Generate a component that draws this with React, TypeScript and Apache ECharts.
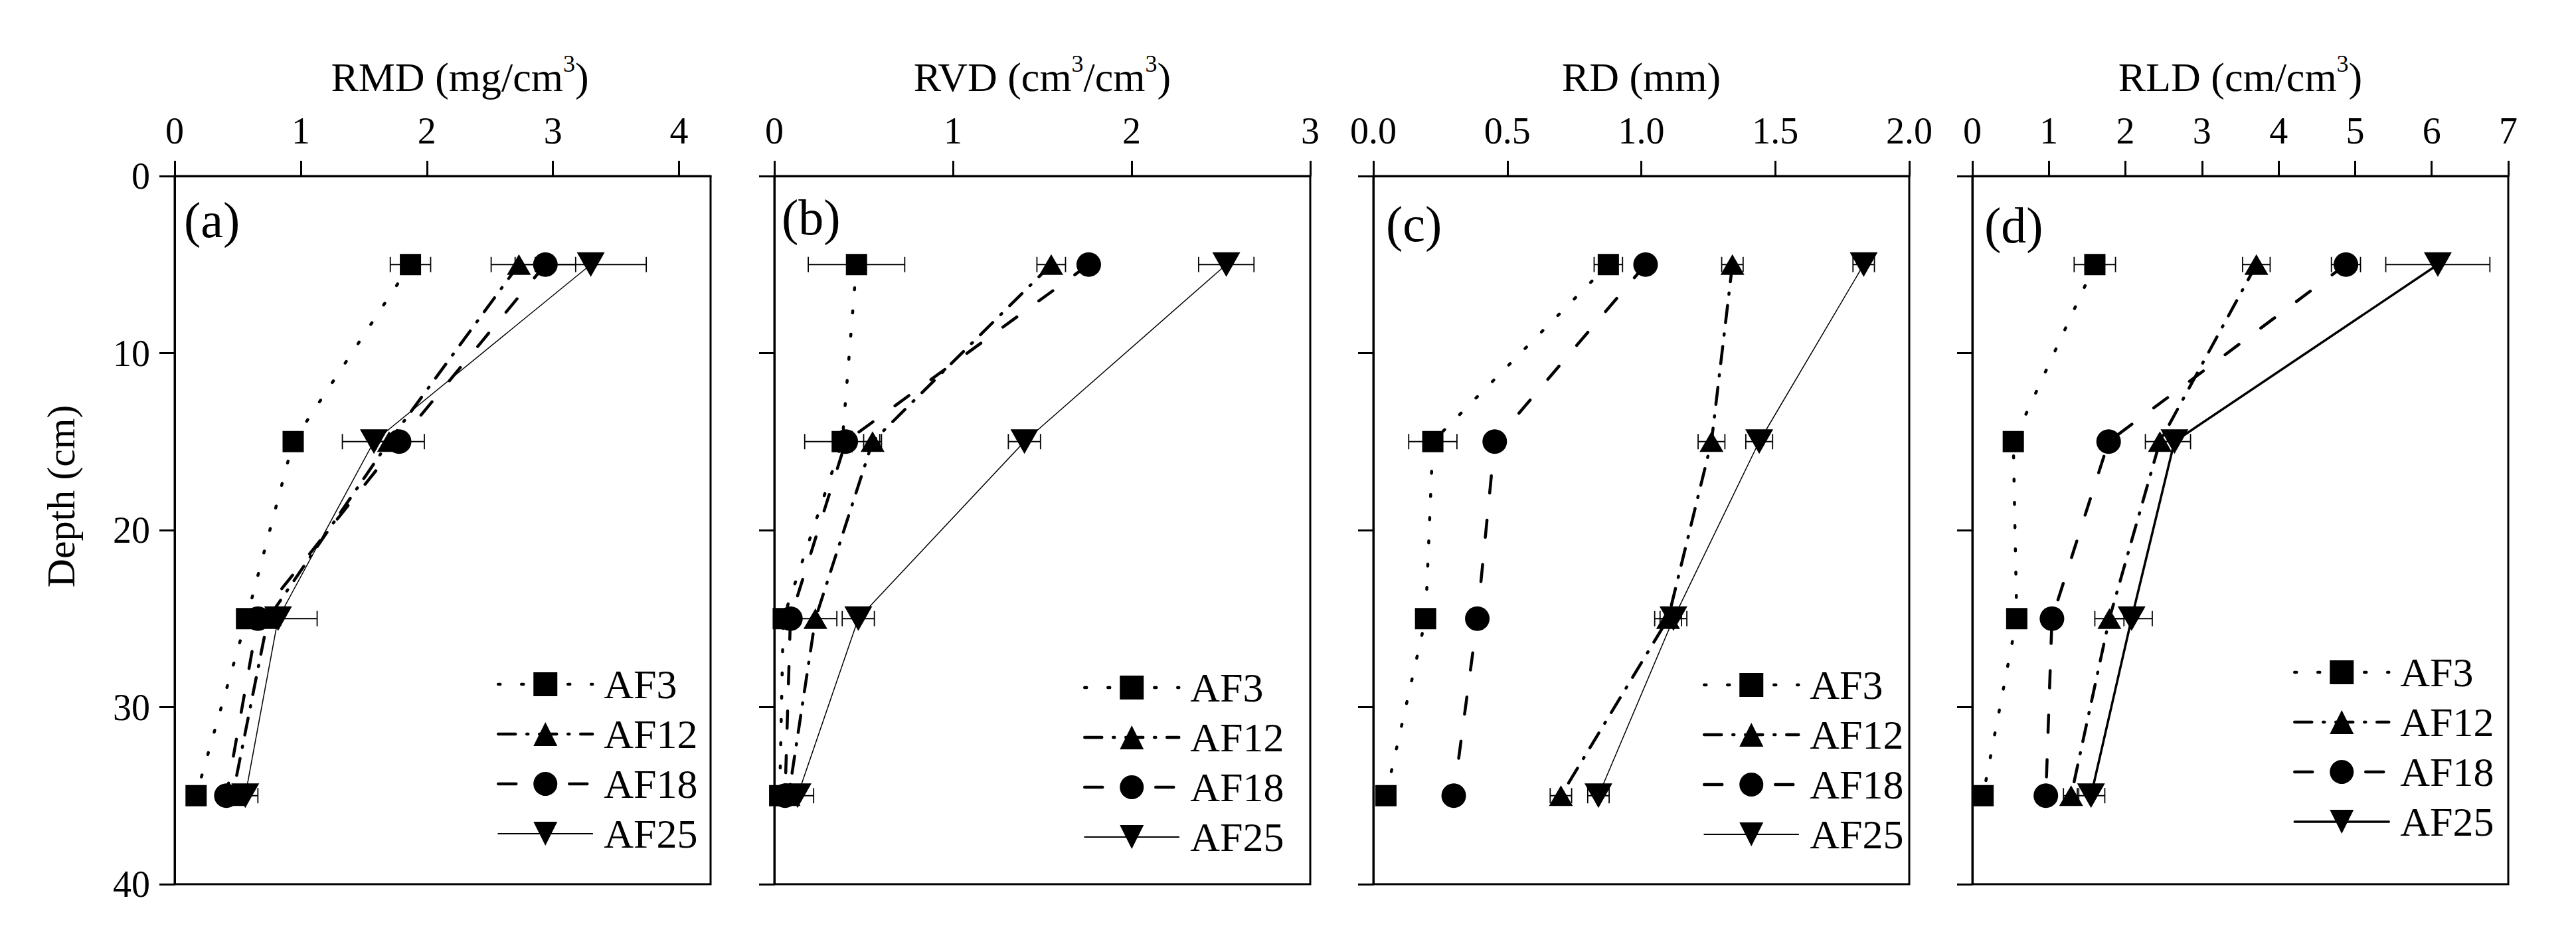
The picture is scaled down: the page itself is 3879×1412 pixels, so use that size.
import React, { useEffect, useRef } from "react";
import * as echarts from "echarts";

// ---------------- data ----------------
const depths = [5, 15, 25, 35];
const groupNames = ["AF3", "AF12", "AF18", "AF25"];

// (a) RMD (mg/cm3)
const rmdAF3 = [1.87, 0.94, 0.57, 0.17];
const rmdAF12 = [2.73, 1.7, 0.74, 0.46];
const rmdAF18 = [2.94, 1.78, 0.66, 0.41];
const rmdAF25 = [3.3, 1.58, 0.82, 0.56];
const rmdErrAF3 = [0.16, 0.05, 0.05, 0.03];
const rmdErrAF12 = [0.22, 0.1, 0.1, 0.05];
const rmdErrAF18 = [0.24, 0.2, 0.08, 0.05];
const rmdErrAF25 = [0.44, 0.25, 0.31, 0.1];

// (b) RVD (cm3/cm3)
const rvdAF3 = [0.46, 0.38, 0.05, 0.03];
const rvdAF12 = [1.55, 0.55, 0.23, 0.08];
const rvdAF18 = [1.76, 0.4, 0.09, 0.06];
const rvdAF25 = [2.53, 1.4, 0.47, 0.13];
const rvdErrAF3 = [0.27, 0.21, 0.03, 0.02];
const rvdErrAF12 = [0.08, 0.05, 0.12, 0.02];
const rvdErrAF18 = [0.02, 0.05, 0.05, 0.02];
const rvdErrAF25 = [0.155, 0.09, 0.09, 0.09];

// (c) RD (mm)
const rdAF3 = [0.877, 0.222, 0.195, 0.047];
const rdAF12 = [1.34, 1.262, 1.1, 0.7];
const rdAF18 = [1.016, 0.453, 0.388, 0.3];
const rdAF25 = [1.83, 1.44, 1.12, 0.84];
const rdErrAF3 = [0.053, 0.09, 0.01, 0.01];
const rdErrAF12 = [0.04, 0.05, 0.05, 0.04];
const rdErrAF18 = [0.01, 0.01, 0.02, 0.02];
const rdErrAF25 = [0.04, 0.05, 0.05, 0.04];

// (d) RLD (cm/cm3)
const rldAF3 = [1.6, 0.535, 0.58, 0.14];
const rldAF12 = [3.71, 2.45, 1.79, 1.29];
const rldAF18 = [4.88, 1.78, 1.04, 0.96];
const rldAF25 = [6.08, 2.64, 2.08, 1.55];
const rldErrAF3 = [0.27, 0.05, 0.05, 0.03];
const rldErrAF12 = [0.18, 0.19, 0.19, 0.1];
const rldErrAF18 = [0.19, 0.05, 0.05, 0.1];
const rldErrAF25 = [0.68, 0.21, 0.27, 0.18];

const panelTitles = [
  "RMD (mg/cm{s|3})",
  "RVD (cm{s|3}/cm{s|3})",
  "RD (mm)",
  "RLD (cm/cm{s|3})",
];
const panelTags = ["(a)", "(b)", "(c)", "(d)"];
const xMaxes = [4.25, 3, 2, 7];
const xIntervals = [1, 1, 0.5, 1];
const xTicksRMD = [0, 1, 2, 3, 4];
const xTicksRVD = [0, 1, 2, 3];
const xTicksRD = [0, 0.5, 1, 1.5, 2];
const xTicksRLD = [0, 1, 2, 3, 4, 5, 6, 7];
const depthTicks = [0, 10, 20, 30, 40];
const depthTitle = "Depth (cm)";

// ---------------- layout / style ----------------
const FONT = '"Liberation Serif", "DejaVu Serif", "Times New Roman", serif';
const W = 3879;
const H = 1412;
const gridLefts = [263, 1166, 2068, 2970];
const gridTop = 265;
const gridW = 807;
const gridH = 1066;
// [left of legend line, centre of first row]
const legendPos = [
  [748, 1031],
  [1631, 1036],
  [2564, 1032],
  [3453, 1013],
];
const tagPos = [
  [277, 331],
  [1177, 327],
  [2087, 337],
  [2988, 339],
];
const DOWN_TRI = "path://M0,0 L20,0 L10,18 Z";

const styleOf = (g: string, panel: number) => {
  if (g === "AF3")
    return { symbol: "rect", size: 32, type: [3, 32], width: 4.5 };
  if (g === "AF12")
    return { symbol: "triangle", size: [36, 31], type: [26, 17, 2, 17], width: 4.5 };
  if (g === "AF18")
    return { symbol: "circle", size: 37, type: [26, 41], width: 4.5 };
  return { symbol: DOWN_TRI, size: [42, 37], type: "solid", width: panel === 3 ? 3.5 : 1.5 };
};

export default function App() {
  const ref = useRef<HTMLDivElement>(null);

  useEffect(() => {
    if (!ref.current) return;
    const chart = echarts.init(ref.current, null, { renderer: "svg" });

    const means = [
      [rmdAF3, rmdAF12, rmdAF18, rmdAF25],
      [rvdAF3, rvdAF12, rvdAF18, rvdAF25],
      [rdAF3, rdAF12, rdAF18, rdAF25],
      [rldAF3, rldAF12, rldAF18, rldAF25],
    ];
    const errs = [
      [rmdErrAF3, rmdErrAF12, rmdErrAF18, rmdErrAF25],
      [rvdErrAF3, rvdErrAF12, rvdErrAF18, rvdErrAF25],
      [rdErrAF3, rdErrAF12, rdErrAF18, rdErrAF25],
      [rldErrAF3, rldErrAF12, rldErrAF18, rldErrAF25],
    ];
    const xTicks = [xTicksRMD, xTicksRVD, xTicksRD, xTicksRLD];

    const grid: any[] = [];
    const xAxis: any[] = [];
    const yAxis: any[] = [];
    const series: any[] = [];
    const legend: any[] = [];
    const graphic: any[] = [];

    for (let p = 0; p < 4; p++) {
      grid.push({
        left: gridLefts[p],
        top: gridTop,
        width: gridW,
        height: gridH,
        show: true,
        borderColor: "#000",
        borderWidth: 3,
        backgroundColor: "transparent",
        containLabel: false,
      });
      xAxis.push({
        type: "value",
        gridIndex: p,
        position: "top",
        min: 0,
        max: xMaxes[p],
        interval: xIntervals[p],
        axisLine: { show: true, onZero: false, lineStyle: { color: "#000", width: 3 } },
        axisTick: {
          show: true,
          inside: false,
          length: 23,
          customValues: xTicks[p],
          lineStyle: { color: "#000", width: 3 },
        },
        axisLabel: {
          show: true,
          customValues: xTicks[p],
          margin: 40,
          fontSize: 56,
          lineHeight: 56,
          fontFamily: FONT,
          color: "#000",
          formatter: (v: number) => (p === 2 ? v.toFixed(1) : String(v)),
        },
        splitLine: { show: false },
        name: panelTitles[p],
        nameLocation: "middle",
        nameGap: 111,
        nameTextStyle: {
          fontFamily: FONT,
          fontSize: 62,
          lineHeight: 76,
          color: "#000",
          padding: p === 0 ? [0, 0, 0, 52] : 0,
          rich: {
            s: { fontFamily: FONT, fontSize: 36, lineHeight: 28, verticalAlign: "top", color: "#000" },
          },
        },
      });
      yAxis.push({
        type: "value",
        gridIndex: p,
        inverse: true,
        min: 0,
        max: 40,
        interval: 10,
        axisLine: { show: true, onZero: false, lineStyle: { color: "#000", width: 3 } },
        axisTick: {
          show: true,
          inside: false,
          length: 23,
          customValues: depthTicks,
          lineStyle: { color: "#000", width: 3 },
        },
        axisLabel: {
          show: p === 0,
          customValues: depthTicks,
          margin: 37,
          fontSize: 56,
          lineHeight: 56,
          fontFamily: FONT,
          color: "#000",
        },
        splitLine: { show: false },
      });

      // error bars (drawn below the markers)
      groupNames.forEach((g, gi) => {
        series.push({
          type: "custom",
          xAxisIndex: p,
          yAxisIndex: p,
          z: 1,
          silent: true,
          data: depths.map((d, k) => [means[p][gi][k], d, errs[p][gi][k]]),
          encode: { x: 0, y: 1 },
          renderItem: (_params: any, api: any) => {
            const x = api.value(0);
            const y = api.value(1);
            const e = api.value(2);
            if (!e) return null;
            const a = api.coord([x - e, y]);
            const b = api.coord([x + e, y]);
            const h = 11.5;
            const st = { stroke: "#000", lineWidth: 1.8 };
            return {
              type: "group",
              children: [
                { type: "line", shape: { x1: a[0], y1: a[1], x2: b[0], y2: b[1] }, style: st },
                { type: "line", shape: { x1: a[0], y1: a[1] - h, x2: a[0], y2: a[1] + h }, style: st },
                { type: "line", shape: { x1: b[0], y1: b[1] - h, x2: b[0], y2: b[1] + h }, style: st },
              ],
            };
          },
        });
      });

      groupNames.forEach((g, gi) => {
        const s = styleOf(g, p);
        series.push({
          type: "line",
          name: g,
          xAxisIndex: p,
          yAxisIndex: p,
          z: 3,
          clip: false,
          data: depths.map((d, k) => [means[p][gi][k], d]),
          symbol: s.symbol,
          symbolSize: s.size,
          showAllSymbol: true,
          itemStyle: { color: "#000", borderWidth: 0 },
          lineStyle: { color: "#000", width: s.width, type: s.type, cap: "round" },
        });
      });

      legend.push({
        orient: "vertical",
        left: legendPos[p][0],
        top: legendPos[p][1] - 32,
        padding: 0,
        itemWidth: 142,
        itemHeight: 45,
        itemGap: 13,
        textStyle: { fontFamily: FONT, fontSize: 62, color: "#000", padding: [0, 0, 0, 12] },
        data: groupNames.map((g) => {
          const s = styleOf(g, p);
          const lt =
            g === "AF18" ? [27, 80] : s.type;
          return {
            name: g,
            lineStyle: {
              color: "#000",
              width: g === "AF25" ? (p === 3 ? 3.5 : 1.8) : 4.5,
              type: lt,
              cap: "round",
            },
            itemStyle: { color: "#000", borderWidth: 0 },
          };
        }),
      });

      graphic.push({
        type: "text",
        x: tagPos[p][0],
        y: tagPos[p][1],
        style: {
          text: panelTags[p],
          fontFamily: FONT,
          fontSize: 76,
          fill: "#000",
          textAlign: "left",
          textVerticalAlign: "middle",
          align: "left",
          verticalAlign: "middle",
        },
      });
    }

    graphic.push({
      type: "text",
      x: 92,
      y: 747,
      rotation: Math.PI / 2,
      style: {
        text: depthTitle,
        fontFamily: FONT,
        fontSize: 60,
        fill: "#000",
        textAlign: "center",
        textVerticalAlign: "middle",
        align: "center",
        verticalAlign: "middle",
      },
    });

    chart.setOption({
      animation: false,
      backgroundColor: "#fff",
      textStyle: { fontFamily: FONT },
      grid,
      xAxis,
      yAxis,
      legend,
      series,
      graphic,
    });

    return () => chart.dispose();
  }, []);

  return (
    <div
      ref={ref}
      style={{ position: "fixed", left: 0, top: 0, width: W, height: H, background: "#fff" }}
    />
  );
}
